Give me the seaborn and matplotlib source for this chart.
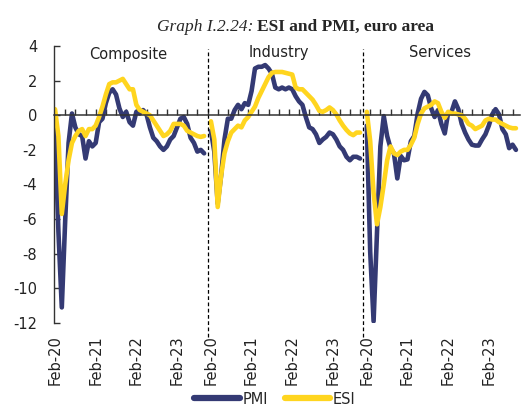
import numpy as np
import pandas as pd
import matplotlib
matplotlib.use("Agg")
import matplotlib.pyplot as plt
import seaborn as sns
from matplotlib.lines import Line2D

# ---------------- data ----------------
panels = ["Composite", "Industry", "Services"]
series_names = ["PMI", "ESI"]
year_labels = ["Feb-20", "Feb-21", "Feb-22", "Feb-23"]
panel_step = 46  # 45 monthly points (Feb-20 .. Oct-23) + one blank category

composite_pmi = [-0.8, -6.7, -11.1, -6.1, -1.6, 0.1, -0.7, -1.1, -1.2, -2.5, -1.5, -1.8,
                 -1.6, -0.4, -0.2, 0.7, 1.3, 1.5, 1.2, 0.4, -0.1, 0.2, -0.4, -0.6,
                 0.2, 0.1, 0.3, 0.05, -0.7, -1.3, -1.5, -1.8, -2.0, -1.8, -1.4, -1.2,
                 -0.7, -0.2, -0.1, -0.5, -1.3, -1.6, -2.1, -2.0, -2.2]
composite_esi = [0.35, -1.2, -5.7, -4.0, -2.6, -1.6, -1.2, -0.9, -0.8, -1.2, -0.8, -0.8,
                 -0.6, -0.1, 0.5, 1.2, 1.8, 1.9, 1.9, 2.0, 2.1, 1.8, 1.5, 1.5,
                 0.6, 0.3, 0.2, 0.1, 0.0, -0.3, -0.6, -0.9, -1.2, -1.1, -0.9, -0.5,
                 -0.5, -0.5, -0.6, -0.9, -1.0, -1.1, -1.2, -1.25, -1.2]
industry_pmi = [-0.9, -2.1, -5.1, -3.5, -1.4, -0.2, -0.2, 0.3, 0.6, 0.35, 0.7, 0.6,
                1.4, 2.7, 2.8, 2.8, 2.9, 2.7, 2.4, 1.6, 1.5, 1.6, 1.5, 1.6,
                1.5, 1.1, 0.8, 0.6, -0.1, -0.7, -0.8, -1.1, -1.6, -1.4, -1.25, -1.0,
                -1.1, -1.4, -1.8, -2.0, -2.4, -2.6, -2.4, -2.4, -2.5]
industry_esi = [-0.35, -1.4, -5.3, -3.5, -2.2, -1.5, -1.0, -0.8, -0.6, -0.7, -0.3, -0.1,
                0.2, 0.5, 1.0, 1.4, 1.8, 2.2, 2.45, 2.5, 2.5, 2.5, 2.45, 2.4,
                2.35, 1.6, 1.5, 1.5, 1.3, 1.1, 0.9, 0.6, 0.25, 0.2, 0.3, 0.45,
                0.3, 0.05, -0.3, -0.6, -0.85, -1.05, -1.15, -1.0, -1.0]
services_pmi = [-0.6, -7.9, -11.9, -6.8, -1.8, -0.05, -1.2, -1.9, -2.2, -3.65, -2.35, -2.6,
                -2.55, -1.5, -1.2, 0.1, 0.95, 1.35, 1.15, 0.4, -0.1, 0.3, -0.5, -1.05,
                0.15, 0.2, 0.8, 0.35, -0.5, -1.0, -1.4, -1.7, -1.75, -1.75, -1.4, -1.1,
                -0.6, 0.05, 0.35, 0.05, -0.8, -1.1, -1.9, -1.7, -2.0]
services_esi = [0.2, -1.5, -4.5, -6.3, -5.3, -4.0, -2.6, -1.8, -2.2, -2.3, -2.1, -2.0,
                -2.0, -1.7, -1.3, -0.5, 0.1, 0.4, 0.5, 0.6, 0.8, 0.7, 0.2, -0.15,
                0.2, 0.1, 0.1, 0.05, 0.0, -0.2, -0.5, -0.6, -0.8, -0.7, -0.6, -0.3,
                -0.2, -0.25, -0.25, -0.4, -0.5, -0.6, -0.7, -0.75, -0.75]

data = {
    ("Composite", "PMI"): composite_pmi, ("Composite", "ESI"): composite_esi,
    ("Industry", "PMI"): industry_pmi, ("Industry", "ESI"): industry_esi,
    ("Services", "PMI"): services_pmi, ("Services", "ESI"): services_esi,
}

rows = []
for p_i, panel in enumerate(panels):
    for s in series_names:
        for m, v in enumerate(data[(panel, s)]):
            rows.append({"x": p_i * panel_step + m, "value": v, "series": s, "panel": panel})
df = pd.DataFrame(rows)

# ---------------- style ----------------
sns.set_style("white")
plt.rcParams["font.family"] = ["DejaVu Sans"]
plt.rcParams["axes.unicode_minus"] = False

NAVY = "#343a74"
YELLOW = "#ffd51f"
palette = {"PMI": NAVY, "ESI": YELLOW}
AXC = "#333333"

fig = plt.figure(figsize=(5.21, 4.08), dpi=100)
ax = fig.add_axes([54 / 521, 85 / 408, 466 / 521, 277 / 408])

sns.lineplot(data=df, x="x", y="value", hue="series", hue_order=series_names,
             units="panel", estimator=None, sort=False, palette=palette,
             linewidth=3.3, legend=False, ax=ax)

ax.set_xlim(-0.3, 137.2)
ax.set_ylim(-12, 4)
ax.set_xlabel("")
ax.set_ylabel("")

for sp in ["top", "right"]:
    ax.spines[sp].set_visible(False)
ax.spines["bottom"].set_position(("data", 0))
ax.spines["bottom"].set_color(AXC)
ax.spines["bottom"].set_linewidth(1.1)
ax.spines["left"].set_color(AXC)
ax.spines["left"].set_linewidth(1.0)

# y axis
ax.set_yticks(np.arange(-12, 5, 2))
ax.set_yticklabels([str(v) for v in np.arange(-12, 5, 2)])
ax.tick_params(axis="y", direction="in", length=4, width=1, color=AXC, left=True,
               pad=12, labelsize=10.5, labelcolor="#222222")

# x axis line at zero with small inner ticks every 3 months
ax.set_xticks([])
ax.set_xticks(np.arange(0, 138, 3), minor=True)
ax.tick_params(axis="x", which="minor", direction="in", length=4, width=1,
               color=AXC, bottom=True, labelbottom=False)

# tick labels at the bottom
tick_pos = []
tick_lab = []
for p_i in range(len(panels)):
    for k, lab in enumerate(year_labels):
        tick_pos.append(p_i * panel_step + 12 * k)
        tick_lab.append(lab)
sec = ax.secondary_xaxis(0.0)
sec.set_xticks(tick_pos)
sec.set_xticklabels(tick_lab, rotation=90, fontsize=10.5, color="#222222")
sec.tick_params(axis="x", length=0, pad=9)
sec.spines["bottom"].set_visible(False)

# dashed separators between panels
for p_i in range(1, len(panels)):
    ax.axvline(p_i * panel_step - 1, ymin=-0.05, ymax=0.99, color="black",
               lw=0.9, ls=(0, (3, 2)), clip_on=False)

# panel titles
panel_label_x = [21.5, 66, 113.5]
panel_label_y = [3.25, 3.35, 3.35]
for lab, px, py in zip(panels, panel_label_x, panel_label_y):
    ax.text(px, py, lab, ha="center", va="baseline", fontsize=10.5, color="#222222")

# title
fig.text(253 / 521, 1 - 31 / 408, "Graph I.2.24:", ha="right", va="baseline",
         family="Liberation Serif", fontstyle="italic", fontsize=12.5)
fig.text(257 / 521, 1 - 31 / 408, "ESI and PMI, euro area", ha="left", va="baseline",
         family="Liberation Serif", fontweight="bold", fontsize=12.5)

# legend
handles = [Line2D([], [], color=palette[s], lw=4.5) for s in series_names]
fig.legend(handles, series_names, loc="center", bbox_to_anchor=(275 / 521, 9 / 408),
           ncol=2, frameon=False, handlelength=3.1, handletextpad=0.2,
           columnspacing=1.15, fontsize=10.5, borderpad=0, borderaxespad=0)

fig.savefig("out.png", dpi=100)
